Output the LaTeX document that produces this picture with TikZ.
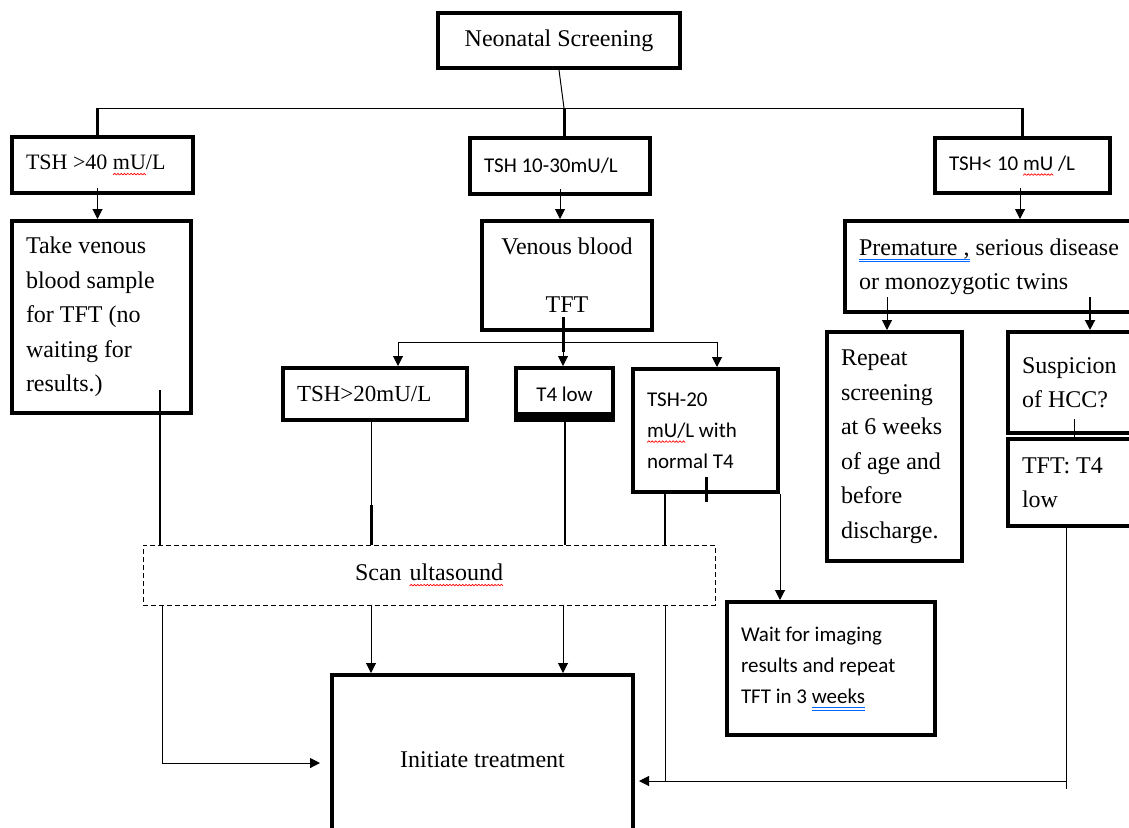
\documentclass[tikz,border=0pt]{standalone}
\usepackage{fontspec}
\setmainfont{Liberation Serif}
\newfontfamily\calib{Carlito}
\usetikzlibrary{arrows.meta}
\newsavebox{\spellbox}
\newcommand{\wavepiece}{\tikz[baseline=0pt]{\useasboundingbox (0pt,0pt) rectangle (1.6pt,0.8pt);
    \draw[red, line width=0.35pt] (0pt,0pt) -- (0.8pt,0.8pt) -- (1.6pt,0pt);}}
\newcommand{\redwave}[1]{\leavevmode\sbox\spellbox{#1}\rlap{\raisebox{-2.6pt}{\hbox to\wd\spellbox{\xleaders\hbox{\wavepiece}\hfill}}}\usebox\spellbox}
\newcommand{\blueline}[1]{\leavevmode\sbox\spellbox{#1}\rlap{\color{blue!60!cyan}\raisebox{-2.4pt}{\rule{\wd\spellbox}{0.35pt}}}\rlap{\color{blue!60!cyan}\raisebox{-3.5pt}{\rule{\wd\spellbox}{0.35pt}}}\usebox\spellbox}
\newcommand{\serifsize}{\fontsize{12pt}{17.25pt}\selectfont}
\newcommand{\sanssize}{\calib\fontsize{10.5pt}{15.5pt}\selectfont}

\begin{document}
\begin{tikzpicture}[x=0.5pt,y=-0.5pt]
    \tikzset{box/.style={draw, line width=2pt, inner xsep=7pt, inner ysep=2pt, align=flush left, font=\serifsize},
             sbox/.style={box, font=\sanssize},
             dbox/.style={draw, line width=0.5pt, dash pattern=on 2.5pt off 1.5pt, inner xsep=7pt, align=center, font=\serifsize},
             wire/.style={line width=0.5pt},
             bar/.style={line width=1pt},
             arr/.style={line width=0.5pt, -{Triangle[length=5pt,width=5pt]}}}
    \clip (0,0) rectangle (1129,827);
    %\draw[help lines,step=50] (0,0) grid (1129,827);
    \node[box, align=center, minimum width=121pt, minimum height=27.5pt] (screen) at (559,40.5) {Neonatal Screening};
    \node[box, font=\fontsize{11pt}{17pt}\selectfont, text width=76.5pt, minimum height=28pt] (tshA) at (102.5,165) {TSH >40 \redwave{mU}/L};
    \node[sbox, text width=76pt, minimum height=28pt] (tshB) at (560,166) {TSH 10-30mU/L};
    \node[sbox, text width=73.5pt, minimum height=27.5pt] (tshC) at (1022.5,165.5) {TSH< 10 \redwave{mU} /L};
    \node[box, text width=75.5pt, minimum height=96pt] (venA) at (101.5,317) {Take venous\\ blood sample\\ for TFT (no\\ waiting for\\ results.)};
    \node[box, align=center, minimum width=85pt, minimum height=54.5pt] (venB) at (567,275.5) {Venous blood\\[11.75pt] TFT};
    \node[box, text width=133.5pt, minimum height=45.5pt] (prem) at (992.5,266.5) {\blueline{Premature ,} serious disease\\ or monozygotic twins};
    \node[box, font=\fontsize{11.5pt}{17pt}\selectfont, text width=78pt, minimum height=26pt] (tshD) at (375,394) {TSH>20mU/L};
    \node[sbox, align=center, minimum width=48.5pt, minimum height=26pt] (tlow) at (564.5,394) {T4 low};
    \node[sbox, text width=58.5pt, minimum height=61.5pt] (tshE) at (705.5,430.5) {TSH-20\\ \redwave{mU/}L with\\ normal T4};
    \node[box, text width=53.5pt, minimum height=114.5pt] (rep) at (894.5,446.5) {Repeat\\ screening\\ at 6 weeks\\ of age and\\ before\\ discharge.};
    \node[box, text width=52pt, minimum height=50.5pt] (susp) at (1074,382.5) {Suspicion\\ of HCC?};
    \node[box, text width=52pt, minimum height=43.5pt] (tftl) at (1074,482.5) {TFT: T4\\ low};
    \node[dbox, text width=272pt, minimum height=30pt] (scan) at (429,575) {Scan \redwave{ultasound}};
    \node[sbox, text width=90pt, minimum height=66.5pt] (wait) at (831,668.5) {Wait for imaging\\ results and repeat\\ TFT in 3 \blueline{weeks}};
    \node[box, align=center, minimum width=150.5pt, minimum height=85pt] (init) at (482.5,760) {Initiate treatment};

    % screening to first row
    \coordinate (hub) at (564,108);
    \coordinate (hubL) at (97,108);
    \coordinate (hubR) at (1022,108);
    \draw[wire] (screen.south) -- (hub);
    \draw[wire] (hubL) -- (hubR);
    \foreach \h/\n in {hubL/tshA,hub/tshB,hubR/tshC}
        \draw[line width=1.5pt] (\h) -- (\h |- \n.north);
    \coordinate (tA) at ([xshift=-2.5pt,yshift=3.5pt]tshA.south);
    \coordinate (tB) at ([yshift=3.5pt]tshB.south);
    \coordinate (tC) at ([xshift=-1.25pt,yshift=3.5pt]tshC.south);
    \foreach \t/\n in {tA/venA,tB/venB,tC/prem}
        \draw[arr] (\t) -- (\t |- \n.north);

    % venous blood split
    \coordinate (split) at (563,342);
    \coordinate (splitD) at (563,352);
    \coordinate (brL) at (398,342);
    \coordinate (brR) at (717,342);
    \coordinate (tV) at (venB.south -| split);
    \draw[line width=1.5pt] ([yshift=7.5pt]tV) -- (splitD);
    \draw[wire] (brL) -- (brR);
    \draw[arr] (brL) -- (brL |- tshD.north);
    \draw[arr] (splitD) -- (splitD |- tlow.north);
    \draw[arr] (brR) -- (brR |- tshE.north);
    \draw[line width=5pt] ([yshift=2.5pt]tlow.south west) -- ([yshift=2.5pt]tlow.south east);

    % into the scan
    \coordinate (inA) at (160,390);
    \coordinate (dD) at (371,505);
    \coordinate (dE) at (665,0);
    \draw[bar] (inA) -- (inA |- scan.north);
    \draw[wire] (dD |- tshD.south) -- (dD);
    \draw[line width=1.5pt] (dD) -- (dD |- scan.north);
    \draw[bar] (tlow.south) -- (tlow.south |- scan.north);
    \draw[bar] (dE |- tshE.south) -- (dE |- scan.north);
    \draw[line width=1.5pt] (706,477) -- (706,502);
    \draw[arr] (tshE.south east) -- (tshE.south east |- wait.north);

    % premature split
    \coordinate (pL) at (887,297);
    \coordinate (pR) at (1090,297);
    \draw[arr] (pL) -- (pL |- rep.north);
    \draw[arr, line width=1pt] (pR) -- (pR |- susp.north);
    \draw[wire] ([yshift=8pt]susp.south) -- (tftl.north);

    % out of the scan
    \coordinate (cL) at (162,763);
    \coordinate (cR) at (1066,781);
    \coordinate (iL) at (cL -| init.west);
    \coordinate (iR) at (cR -| init.east);
    \draw[arr] (cL |- scan.south) -- (cL) -- ([xshift=-5pt]iL);
    \draw[arr] (dD |- scan.south) -- (dD |- init.north);
    \draw[arr] (split |- scan.south) -- (split |- init.north);
    \draw[wire] (dE |- scan.south) -- (dE |- cR);
    \draw[wire] (cR |- tftl.south) -- ([yshift=-4pt]cR);
    \draw[arr] (cR) -- ([xshift=2pt]iR);
\end{tikzpicture}
\end{document}
